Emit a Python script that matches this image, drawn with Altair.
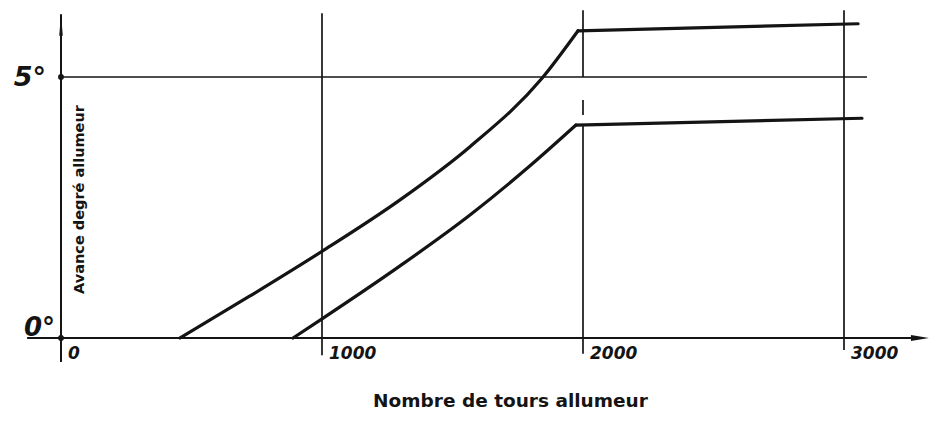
import altair as alt
import pandas as pd

# ---- data ----
# upper advance curve (rising part, then plateau)
upper_rpm = [456, 724, 1000, 1299, 1567, 1843, 1981]
upper_deg = [0.0, 0.805, 1.66, 2.646, 3.665, 4.975, 5.885]
upper_flat_rpm = [1981, 3054]
upper_flat_deg = [5.885, 6.02]

# lower advance curve (rising part, then plateau)
lower_rpm = [889, 1000, 1299, 1567, 1797, 1973]
lower_deg = [0.0, 0.366, 1.381, 2.356, 3.299, 4.08]
lower_flat_rpm = [1973, 3069]
lower_flat_deg = [4.08, 4.21]

# vertical reference lines (rpm, lower end, upper end in degrees)
vline_rpm = [1000, 2000, 2000, 2000, 3000]
vline_lo = [-0.33, 5.0, 4.27, -0.30, -0.23]
vline_hi = [6.22, 6.28, 4.56, 4.08, 6.28]

# horizontal 5 degree line
hline_deg = [5.0]
hline_from = [0]
hline_to = [3088]

# axes extents
yaxis_lo, yaxis_hi = -0.46, 6.20
xaxis_lo, xaxis_hi = -130, 3300

x_tick_values = [0, 1000, 2000, 3000]
x_tick_labels = ["0", "1000", "2000", "3000"]

INK = "#141414"
XS = alt.Scale(domain=[-203.1, 3325.7], nice=False, zero=False)
YS = alt.Scale(domain=[-1.571, 6.322], nice=False, zero=False)

x_axis = alt.Axis(
    title="Nombre de tours allumeur", domain=False, ticks=False, labels=False,
    grid=False, titleFont="DejaVu Sans", titleFontSize=18.5, titleFontWeight="bold",
    titleColor=INK, titleX=502, titleY=-14, titleAlign="center",
    titleBaseline="alphabetic",
)
y_axis = alt.Axis(
    title="Avance degré allumeur", domain=False, ticks=False, labels=False,
    grid=False, titleFont="DejaVu Sans", titleFontSize=14.5, titleFontWeight="bold",
    titleColor=INK, titleAngle=270, titleX=71, titleY=191, titleAlign="center",
    titleBaseline="middle",
)


def X(field):
    return alt.X(field, type="quantitative", scale=XS, axis=x_axis)


def Y(field):
    return alt.Y(field, type="quantitative", scale=YS, axis=y_axis)


def curve(rpm, deg, interp):
    df = pd.DataFrame({"rpm": rpm, "deg": deg})
    return alt.Chart(df).mark_line(
        color=INK, strokeWidth=3.2, interpolate=interp, strokeCap="round"
    ).encode(x=X("rpm"), y=Y("deg"))


vlines = alt.Chart(
    pd.DataFrame({"rpm": vline_rpm, "lo": vline_lo, "hi": vline_hi})
).mark_rule(color=INK, strokeWidth=1.7).encode(x=X("rpm"), y=Y("lo"), y2="hi")

hline = alt.Chart(
    pd.DataFrame({"deg": hline_deg, "a": hline_from, "b": hline_to})
).mark_rule(color=INK, strokeWidth=1.4).encode(y=Y("deg"), x=X("a"), x2="b")

yaxis_line = alt.Chart(
    pd.DataFrame({"rpm": [0], "lo": [yaxis_lo], "hi": [yaxis_hi]})
).mark_rule(color=INK, strokeWidth=2).encode(x=X("rpm"), y=Y("lo"), y2="hi")

xaxis_line = alt.Chart(
    pd.DataFrame({"deg": [0], "a": [xaxis_lo], "b": [xaxis_hi]})
).mark_rule(color=INK, strokeWidth=2).encode(y=Y("deg"), x=X("a"), x2="b")

arrow_up = alt.Chart(pd.DataFrame({"rpm": [0], "deg": [6.0]})).mark_point(
    shape="M0,-1L0.16,1L-0.16,1Z", size=484, filled=True, color=INK,
    opacity=1, strokeWidth=0,
).encode(x=X("rpm"), y=Y("deg"))

arrow_right = alt.Chart(pd.DataFrame({"rpm": [3291], "deg": [0.0]})).mark_point(
    shape="M1,0L-1,-0.34L-1,0.34Z", size=324, filled=True, color=INK,
    opacity=1, strokeWidth=0,
).encode(x=X("rpm"), y=Y("deg"))

dots = alt.Chart(pd.DataFrame({"rpm": [0, 0], "deg": [0.0, 5.0]})).mark_circle(
    size=34, color=INK, opacity=1
).encode(x=X("rpm"), y=Y("deg"))

xticks = alt.Chart(
    pd.DataFrame({"rpm": x_tick_values, "deg": [0] * 4, "t": x_tick_labels})
).mark_text(
    align="left", baseline="middle", dx=7, dy=16, font="DejaVu Sans",
    fontStyle="italic", fontWeight="bold", fontSize=17, color=INK,
).encode(x=X("rpm"), y=Y("deg"), text="t")

ylab5 = alt.Chart(pd.DataFrame({"rpm": [0], "deg": [5.0], "t": ["5°"]})).mark_text(
    align="right", baseline="middle", dx=-15, dy=1, font="DejaVu Sans",
    fontStyle="italic", fontWeight="bold", fontSize=27, color=INK,
).encode(x=X("rpm"), y=Y("deg"), text="t")

ylab0 = alt.Chart(pd.DataFrame({"rpm": [0], "deg": [0.0], "t": ["0°"]})).mark_text(
    align="right", baseline="alphabetic", dx=-6, dy=-2, font="DejaVu Sans",
    fontStyle="italic", fontWeight="bold", fontSize=26, color=INK,
).encode(x=X("rpm"), y=Y("deg"), text="t")

chart = alt.layer(
    vlines, hline, xaxis_line, yaxis_line,
    curve(upper_rpm, upper_deg, "monotone"),
    curve(upper_flat_rpm, upper_flat_deg, "linear"),
    curve(lower_rpm, lower_deg, "monotone"),
    curve(lower_flat_rpm, lower_flat_deg, "linear"),
    arrow_up, arrow_right, dots, xticks, ylab5, ylab0,
).properties(
    width=921, height=412, padding=0, autosize=alt.AutoSizeParams(type="none"),
    background="white",
).configure_view(stroke=None)

chart.save("out.html", embed_options={"renderer": "svg", "actions": False})
